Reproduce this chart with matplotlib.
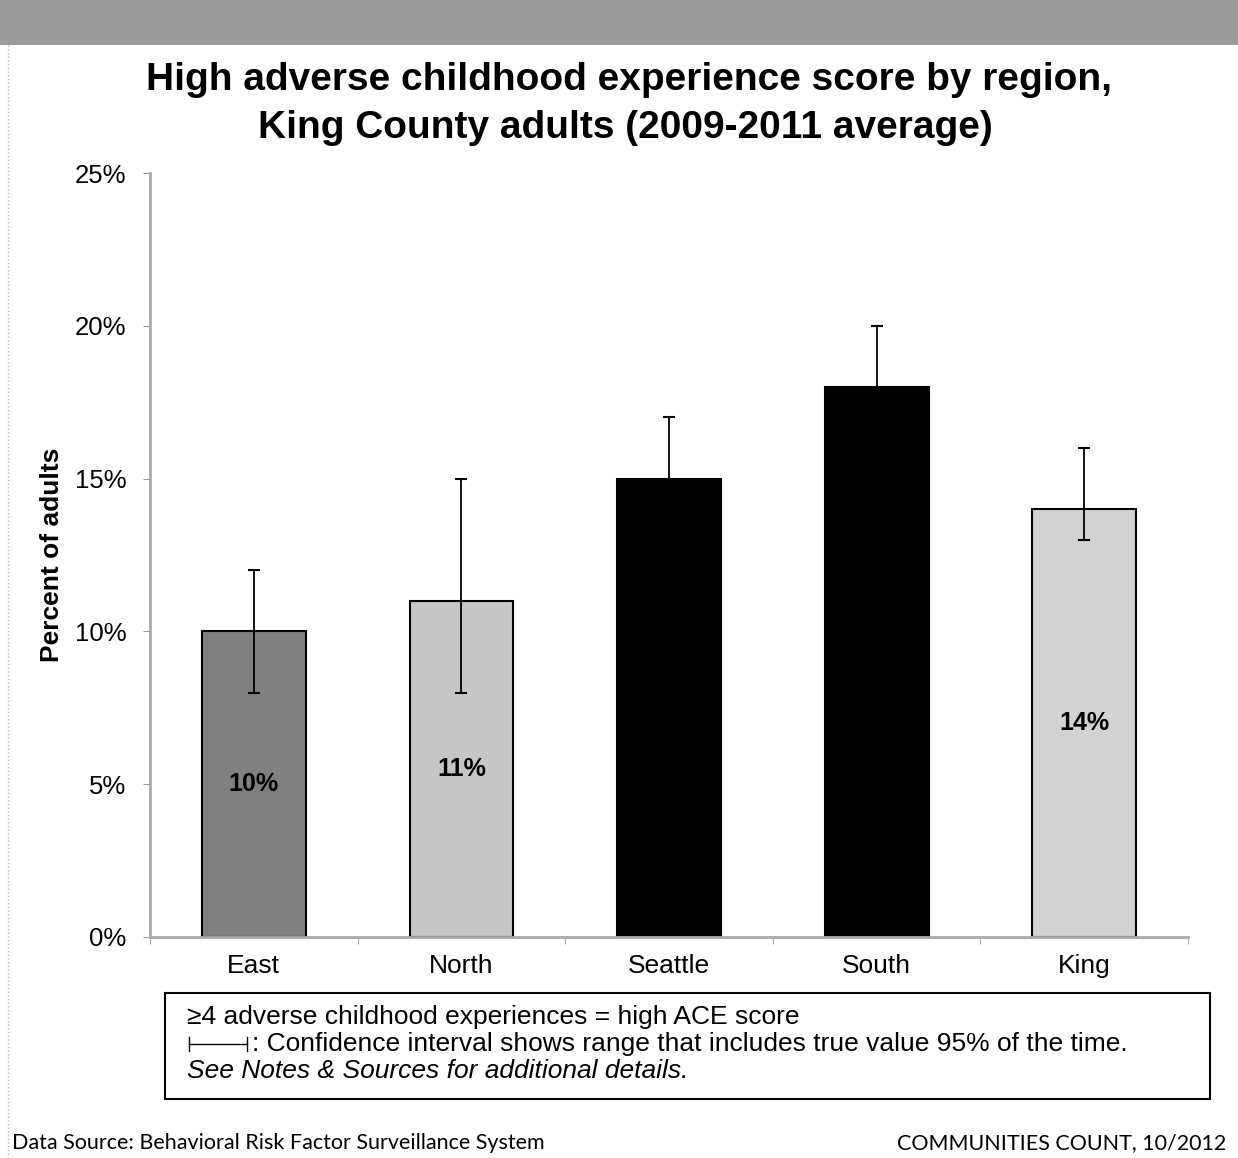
import numpy as np
import matplotlib.pyplot as plt
from matplotlib.lines import Line2D
from matplotlib.patches import Rectangle

plt.rcParams['font.family'] = ['Liberation Sans', 'DejaVu Sans']

regions = ['East', 'North', 'Seattle', 'South', 'King']
pct = [10, 11, 15, 18, 14]
ci_low = [8, 8, 13, 16, 13]
ci_high = [12, 15, 17, 20, 16]
bar_colors = ['#808080', '#c6c6c6', '#000000', '#000000', '#d2d2d2']
yticks = [0, 5, 10, 15, 20, 25]

W, H = 1238, 1158
fig = plt.figure(figsize=(W / 100, H / 100), dpi=100)

# grey band across the top
fig.patches.append(Rectangle((0, 1 - 45 / H), 1, 45 / H, transform=fig.transFigure,
                             facecolor='#9c9c9c', edgecolor='none'))
# faint dotted page edge on the left
fig.lines.append(Line2D([8 / W, 8 / W], [0, 1 - 45 / H], transform=fig.transFigure,
                        color='#bbbbbb', linewidth=1, linestyle=':'))

fig.text(0.508, 1 - 80 / H, 'High adverse childhood experience score by region,',
         ha='center', va='center', fontsize=28, fontweight='bold')
fig.text(0.505, 1 - 128 / H, 'King County adults (2009-2011 average)',
         ha='center', va='center', fontsize=28, fontweight='bold')

ax = fig.add_axes([150 / W, 221 / H, 1038 / W, 764 / H])
x = np.arange(len(regions))
ax.bar(x, pct, width=0.5, color=bar_colors, edgecolor='black', linewidth=1.5, zorder=2)
yerr = [np.array(pct) - np.array(ci_low), np.array(ci_high) - np.array(pct)]
ax.errorbar(x, pct, yerr=yerr, fmt='none', ecolor='black', elinewidth=1.3,
            capsize=4.5, capthick=1.5, zorder=3)

for xi, v in zip(x, pct):
    ax.text(xi, v / 2, f'{v}%', ha='center', va='center', fontsize=18,
            fontweight='bold', color='black', zorder=4)

ax.set_xlim(-0.5, 4.5)
ax.set_ylim(0, 25)
ax.set_yticks(yticks)
ax.set_yticklabels([f'{t}%' for t in yticks], fontsize=18.5)
ax.set_xticks(x)
ax.set_xticklabels(regions, fontsize=19)
ax.set_xticks(np.arange(-0.5, 5, 1), minor=True)
ax.tick_params(axis='x', which='major', length=0, pad=12)
ax.tick_params(axis='x', which='minor', length=5, color='#999999')
ax.tick_params(axis='y', length=5, color='#999999', pad=12)
for s in ['top', 'right']:
    ax.spines[s].set_visible(False)
for s in ['left', 'bottom']:
    ax.spines[s].set_color('#aaaaaa')
    ax.spines[s].set_linewidth(2)
ax.set_ylabel('Percent of adults', fontsize=19, fontweight='bold', labelpad=8)

# note box
fig.patches.append(Rectangle((165 / W, 1 - 1099 / H), 1045 / W, 106 / H,
                             transform=fig.transFigure, facecolor='white',
                             edgecolor='black', linewidth=1.5))
fig.text(187 / W, 1 - 1017 / H, '\u22654 adverse childhood experiences = high ACE score',
         ha='left', va='center', fontsize=19)
y2 = 1 - 1044 / H
fig.lines.append(Line2D([189 / W, 247 / W], [y2, y2], transform=fig.transFigure,
                        color='black', linewidth=1))
for xe in (189, 247):
    fig.lines.append(Line2D([xe / W, xe / W], [y2 - 7 / H, y2 + 7 / H],
                            transform=fig.transFigure, color='black', linewidth=1))
fig.text(252 / W, y2, ': Confidence interval shows range that includes true value 95% of the time.',
         ha='left', va='center', fontsize=19)
fig.text(187 / W, 1 - 1071 / H, 'See Notes & Sources for additional details.',
         ha='left', va='center', fontsize=19, style='italic')

fig.text(12 / W, 1 - 1143 / H, 'Data Source: Behavioral Risk Factor Surveillance System',
         ha='left', va='center', fontsize=15.5, family=['Lato', 'DejaVu Sans'])
fig.text(1226 / W, 1 - 1143 / H, 'COMMUNITIES COUNT, 10/2012',
         ha='right', va='center', fontsize=15.5, family=['Lato', 'DejaVu Sans'])

fig.savefig('out.png', dpi=100)
